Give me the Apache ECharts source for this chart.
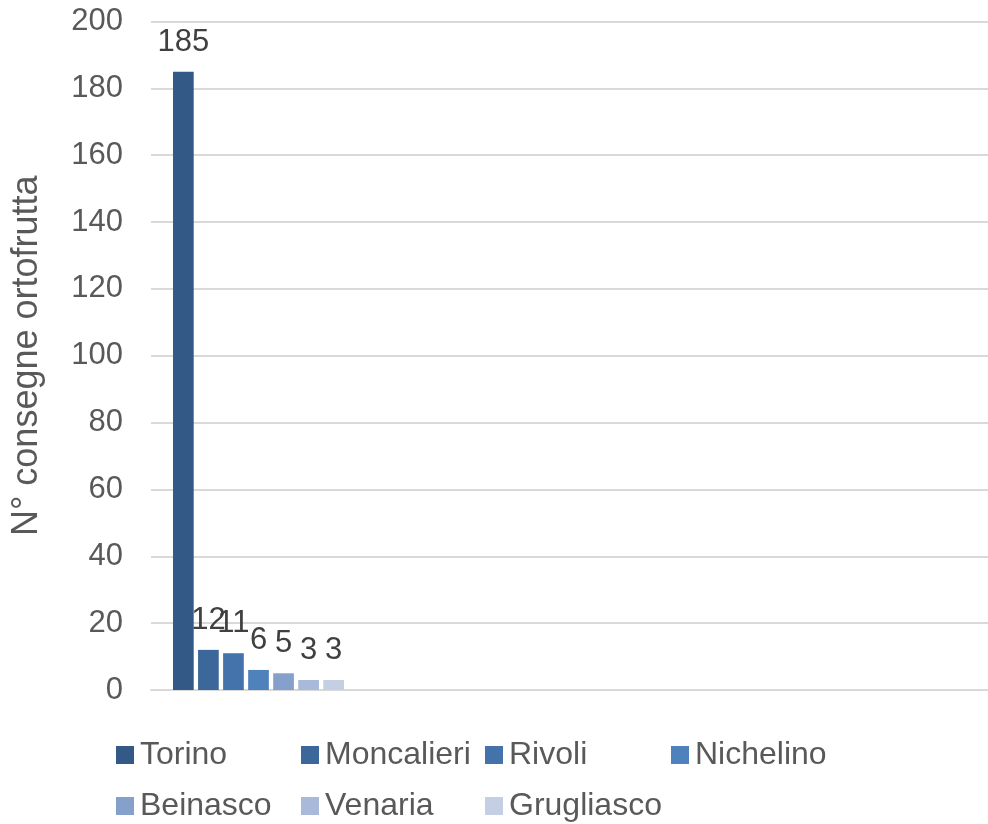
<!DOCTYPE html>
<html>
<head>
<meta charset="utf-8">
<script src="https://cdn.jsdelivr.net/npm/echarts@6/dist/echarts.min.js"></script>
<style>
html,body{margin:0;padding:0;background:#fff;}
#chart{width:988px;height:824px;}
</style>
</head>
<body>
<div id="chart"></div>
<script>
const categories = ['Comuni', '', '', ''];
const seriesNames = ['Torino', 'Moncalieri', 'Rivoli', 'Nichelino', 'Beinasco', 'Venaria', 'Grugliasco'];
const seriesValues = [185, 12, 11, 6, 5, 3, 3];
const seriesColors = ['#335A87', '#3C679B', '#4473AC', '#4F81BD', '#85A0CB', '#A8B9D9', '#C4CFE4'];
const yTicks = [0, 20, 40, 60, 80, 100, 120, 140, 160, 180, 200];
const axisTitle = 'N° consegne ortofrutta';

const FONT = 'Liberation Sans, Arial, sans-serif';
const chart = echarts.init(document.getElementById('chart'), null, {renderer: 'canvas'});

const legendPos = [
  [116, 737], [301, 737], [485, 737], [671, 737],
  [116, 788], [301, 788], [485, 788]
];

const option = {
  backgroundColor: '#ffffff',
  animation: false,
  grid: {left: 151, right: -23, top: 21.5, bottom: 134, containLabel: false, outerBoundsMode: 'none'},
  legend: seriesNames.map((n, i) => ({
    data: [n],
    left: legendPos[i][0],
    top: legendPos[i][1],
    padding: 0,
    itemWidth: 18,
    itemHeight: 18,
    icon: 'rect',
    selectedMode: false,
    textStyle: {fontFamily: FONT, fontSize: 32, color: '#595959', lineHeight: 36, padding: [0, 0, 0, 1]}
  })),
  xAxis: {
    type: 'category',
    data: categories,
    axisLine: {show: true, lineStyle: {color: '#D9D9D9', width: 2}},
    axisTick: {show: false},
    axisLabel: {show: false},
    splitLine: {show: false}
  },
  yAxis: {
    type: 'value',
    min: yTicks[0],
    max: yTicks[yTicks.length - 1],
    interval: yTicks[1] - yTicks[0],
    name: axisTitle,
    nameLocation: 'middle',
    nameGap: 106,
    nameTextStyle: {fontFamily: FONT, fontSize: 36, color: '#595959'},
    axisLine: {show: false},
    axisTick: {show: false},
    axisLabel: {fontFamily: FONT, fontSize: 31, color: '#595959', margin: 28},
    splitLine: {show: true, lineStyle: {color: '#D9D9D9', width: 2}}
  },
  series: seriesNames.map((n, i) => ({
    name: n,
    type: 'bar',
    data: [seriesValues[i]],
    barWidth: 20.7,
    barGap: '21%',
    itemStyle: {color: seriesColors[i]},
    label: {
      show: true,
      position: 'top',
      distance: 14,
      fontFamily: FONT,
      fontSize: 31,
      color: '#404040'
    }
  }))
};
chart.setOption(option);
</script>
</body>
</html>
